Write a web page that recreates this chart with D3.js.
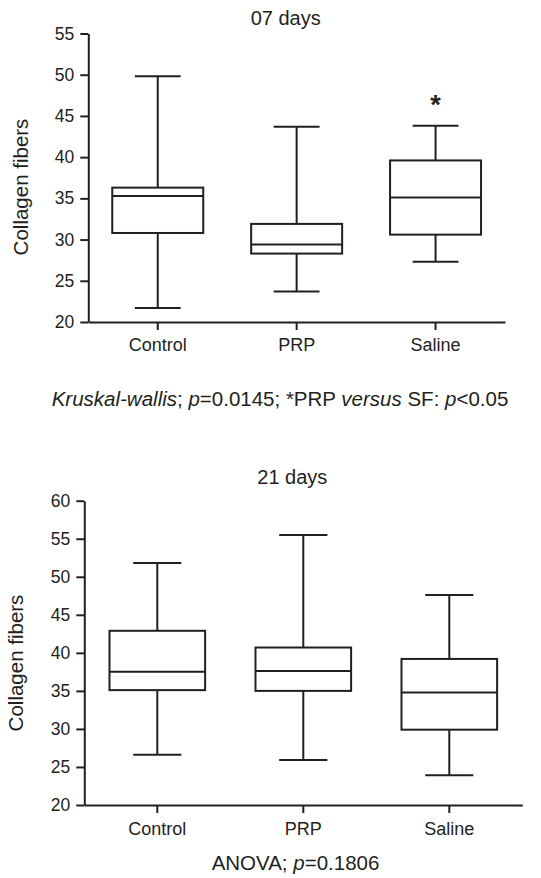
<!DOCTYPE html>
<html>
<head>
<meta charset="utf-8">
<script src="https://cdn.jsdelivr.net/npm/d3@7"></script>
<style>
  body { margin: 0; background: #fff; }
  svg { display: block; font-family: 'Liberation Sans', Arial, sans-serif; }
</style>
</head>
<body>
<div id="svg-container"></div>
<script>
const groups = ['Control', 'PRP', 'Saline'];

// 07 days
const day7Min = [21.7, 23.7, 27.3];
const day7Q1 = [30.8, 28.3, 30.6];
const day7Median = [35.3, 29.4, 35.1];
const day7Q3 = [36.3, 31.9, 39.6];
const day7Max = [49.8, 43.7, 43.8];
const day7Ticks = [20, 25, 30, 35, 40, 45, 50, 55];
const day7Stars = ['', '', '*'];

// 21 days
const day21Min = [26.6, 25.9, 23.9];
const day21Q1 = [35.1, 35.0, 29.9];
const day21Median = [37.5, 37.6, 34.8];
const day21Q3 = [42.9, 40.7, 39.2];
const day21Max = [51.8, 55.5, 47.6];
const day21Ticks = [20, 25, 30, 35, 40, 45, 50, 55, 60];
const day21Stars = ['', '', ''];

const w = 541;
const h = 878;
const ink = '#231f20';

const svg = d3.select('#svg-container')
  .append('svg')
  .attr('width', w)
  .attr('height', h);

function drawPanel(opt) {
  const rows = groups.map((g, i) => ({
    group: g,
    min: opt.min[i], q1: opt.q1[i], median: opt.median[i],
    q3: opt.q3[i], max: opt.max[i], star: opt.stars[i]
  }));

  const xScale = d3.scaleBand()
    .domain(groups)
    .range([opt.left, opt.right])
    .padding(0);
  const yScale = d3.scaleLinear()
    .domain([opt.ticks[0], opt.ticks[opt.ticks.length - 1]])
    .range([opt.bottom, opt.top]);

  const g = svg.append('g');

  const yAxis = d3.axisLeft(yScale)
    .tickValues(opt.ticks)
    .tickSize(8)
    .tickSizeOuter(0)
    .tickPadding(6);
  const xAxis = d3.axisBottom(xScale)
    .tickSize(8)
    .tickSizeOuter(0)
    .tickPadding(opt.xPad);

  const gy = g.append('g')
    .attr('transform', 'translate(' + opt.left + ', 0)')
    .call(yAxis);
  const gx = g.append('g')
    .attr('transform', 'translate(0, ' + opt.bottom + ')')
    .call(xAxis);

  [gx, gy].forEach(a => {
    a.selectAll('path, line').attr('stroke', ink).attr('stroke-width', 2);
    a.selectAll('text').attr('fill', ink).attr('font-family', 'Liberation Sans, Arial, sans-serif');
  });
  gy.selectAll('text').attr('font-size', 17.5);
  gx.selectAll('text').attr('font-size', 18);

  const boxW = xScale.bandwidth() * 0.655;
  const capW = xScale.bandwidth() * 0.33;
  const cx = d => xScale(d.group) + xScale.bandwidth() / 2;

  const boxes = g.selectAll('.box')
    .data(rows)
    .enter()
    .append('g')
    .attr('class', 'box')
    .attr('stroke', ink)
    .attr('stroke-width', 2)
    .attr('fill', 'none');

  boxes.append('line')
    .attr('x1', cx).attr('x2', cx)
    .attr('y1', d => yScale(d.max)).attr('y2', d => yScale(d.q3));
  boxes.append('line')
    .attr('x1', cx).attr('x2', cx)
    .attr('y1', d => yScale(d.q1)).attr('y2', d => yScale(d.min));
  boxes.append('line')
    .attr('x1', d => cx(d) - capW / 2).attr('x2', d => cx(d) + capW / 2)
    .attr('y1', d => yScale(d.max)).attr('y2', d => yScale(d.max));
  boxes.append('line')
    .attr('x1', d => cx(d) - capW / 2).attr('x2', d => cx(d) + capW / 2)
    .attr('y1', d => yScale(d.min)).attr('y2', d => yScale(d.min));
  boxes.append('rect')
    .attr('x', d => cx(d) - boxW / 2)
    .attr('width', boxW)
    .attr('y', d => yScale(d.q3))
    .attr('height', d => yScale(d.q1) - yScale(d.q3))
    .attr('fill', '#fff');
  boxes.append('line')
    .attr('x1', d => cx(d) - boxW / 2).attr('x2', d => cx(d) + boxW / 2)
    .attr('y1', d => yScale(d.median)).attr('y2', d => yScale(d.median));

  g.selectAll('.star')
    .data(rows.filter(d => d.star !== ''))
    .enter()
    .append('text')
    .attr('class', 'star')
    .attr('x', cx)
    .attr('y', d => yScale(d.max) - 12)
    .attr('text-anchor', 'middle')
    .attr('font-size', 27)
    .attr('font-weight', 'bold')
    .attr('fill', ink)
    .text(d => d.star);

  g.append('text')
    .attr('x', opt.titleX)
    .attr('y', opt.titleY)
    .attr('text-anchor', 'middle')
    .attr('font-size', 20)
    .attr('fill', ink)
    .text(opt.title);

  g.append('text')
    .attr('transform', 'translate(' + opt.labelX + ', ' + opt.labelY + ') rotate(-90)')
    .attr('text-anchor', 'middle')
    .attr('font-size', 20.5)
    .attr('fill', ink)
    .text('Collagen fibers');

  const cap = g.append('text')
    .attr('x', opt.capX)
    .attr('y', opt.capY)
    .attr('text-anchor', 'middle')
    .attr('font-size', 20.5)
    .attr('fill', ink);
  opt.caption.forEach(part => {
    cap.append('tspan')
      .attr('font-style', part[1] ? 'italic' : 'normal')
      .text(part[0]);
  });
}

drawPanel({
  min: day7Min, q1: day7Q1, median: day7Median, q3: day7Q3, max: day7Max,
  ticks: day7Ticks, stars: day7Stars,
  left: 88.3, right: 505, top: 33.5, bottom: 322, xPad: 8,
  title: '07 days', titleX: 285.7, titleY: 25,
  labelX: 28, labelY: 187,
  capX: 280, capY: 406,
  caption: [['Kruskal-wallis', true], ['; ', false], ['p', true], ['=0.0145; *PRP ', false],
    ['versus', true], [' SF: ', false], ['p', true], ['<0.05', false]]
});

drawPanel({
  min: day21Min, q1: day21Q1, median: day21Median, q3: day21Q3, max: day21Max,
  ticks: day21Ticks, stars: day21Stars,
  left: 84.3, right: 522.3, top: 500.7, bottom: 805, xPad: 9,
  title: '21 days', titleX: 292.3, titleY: 484,
  labelX: 23, labelY: 663,
  capX: 295.5, capY: 870,
  caption: [['ANOVA; ', false], ['p', true], ['=0.1806', false]]
});
</script>
</body>
</html>
